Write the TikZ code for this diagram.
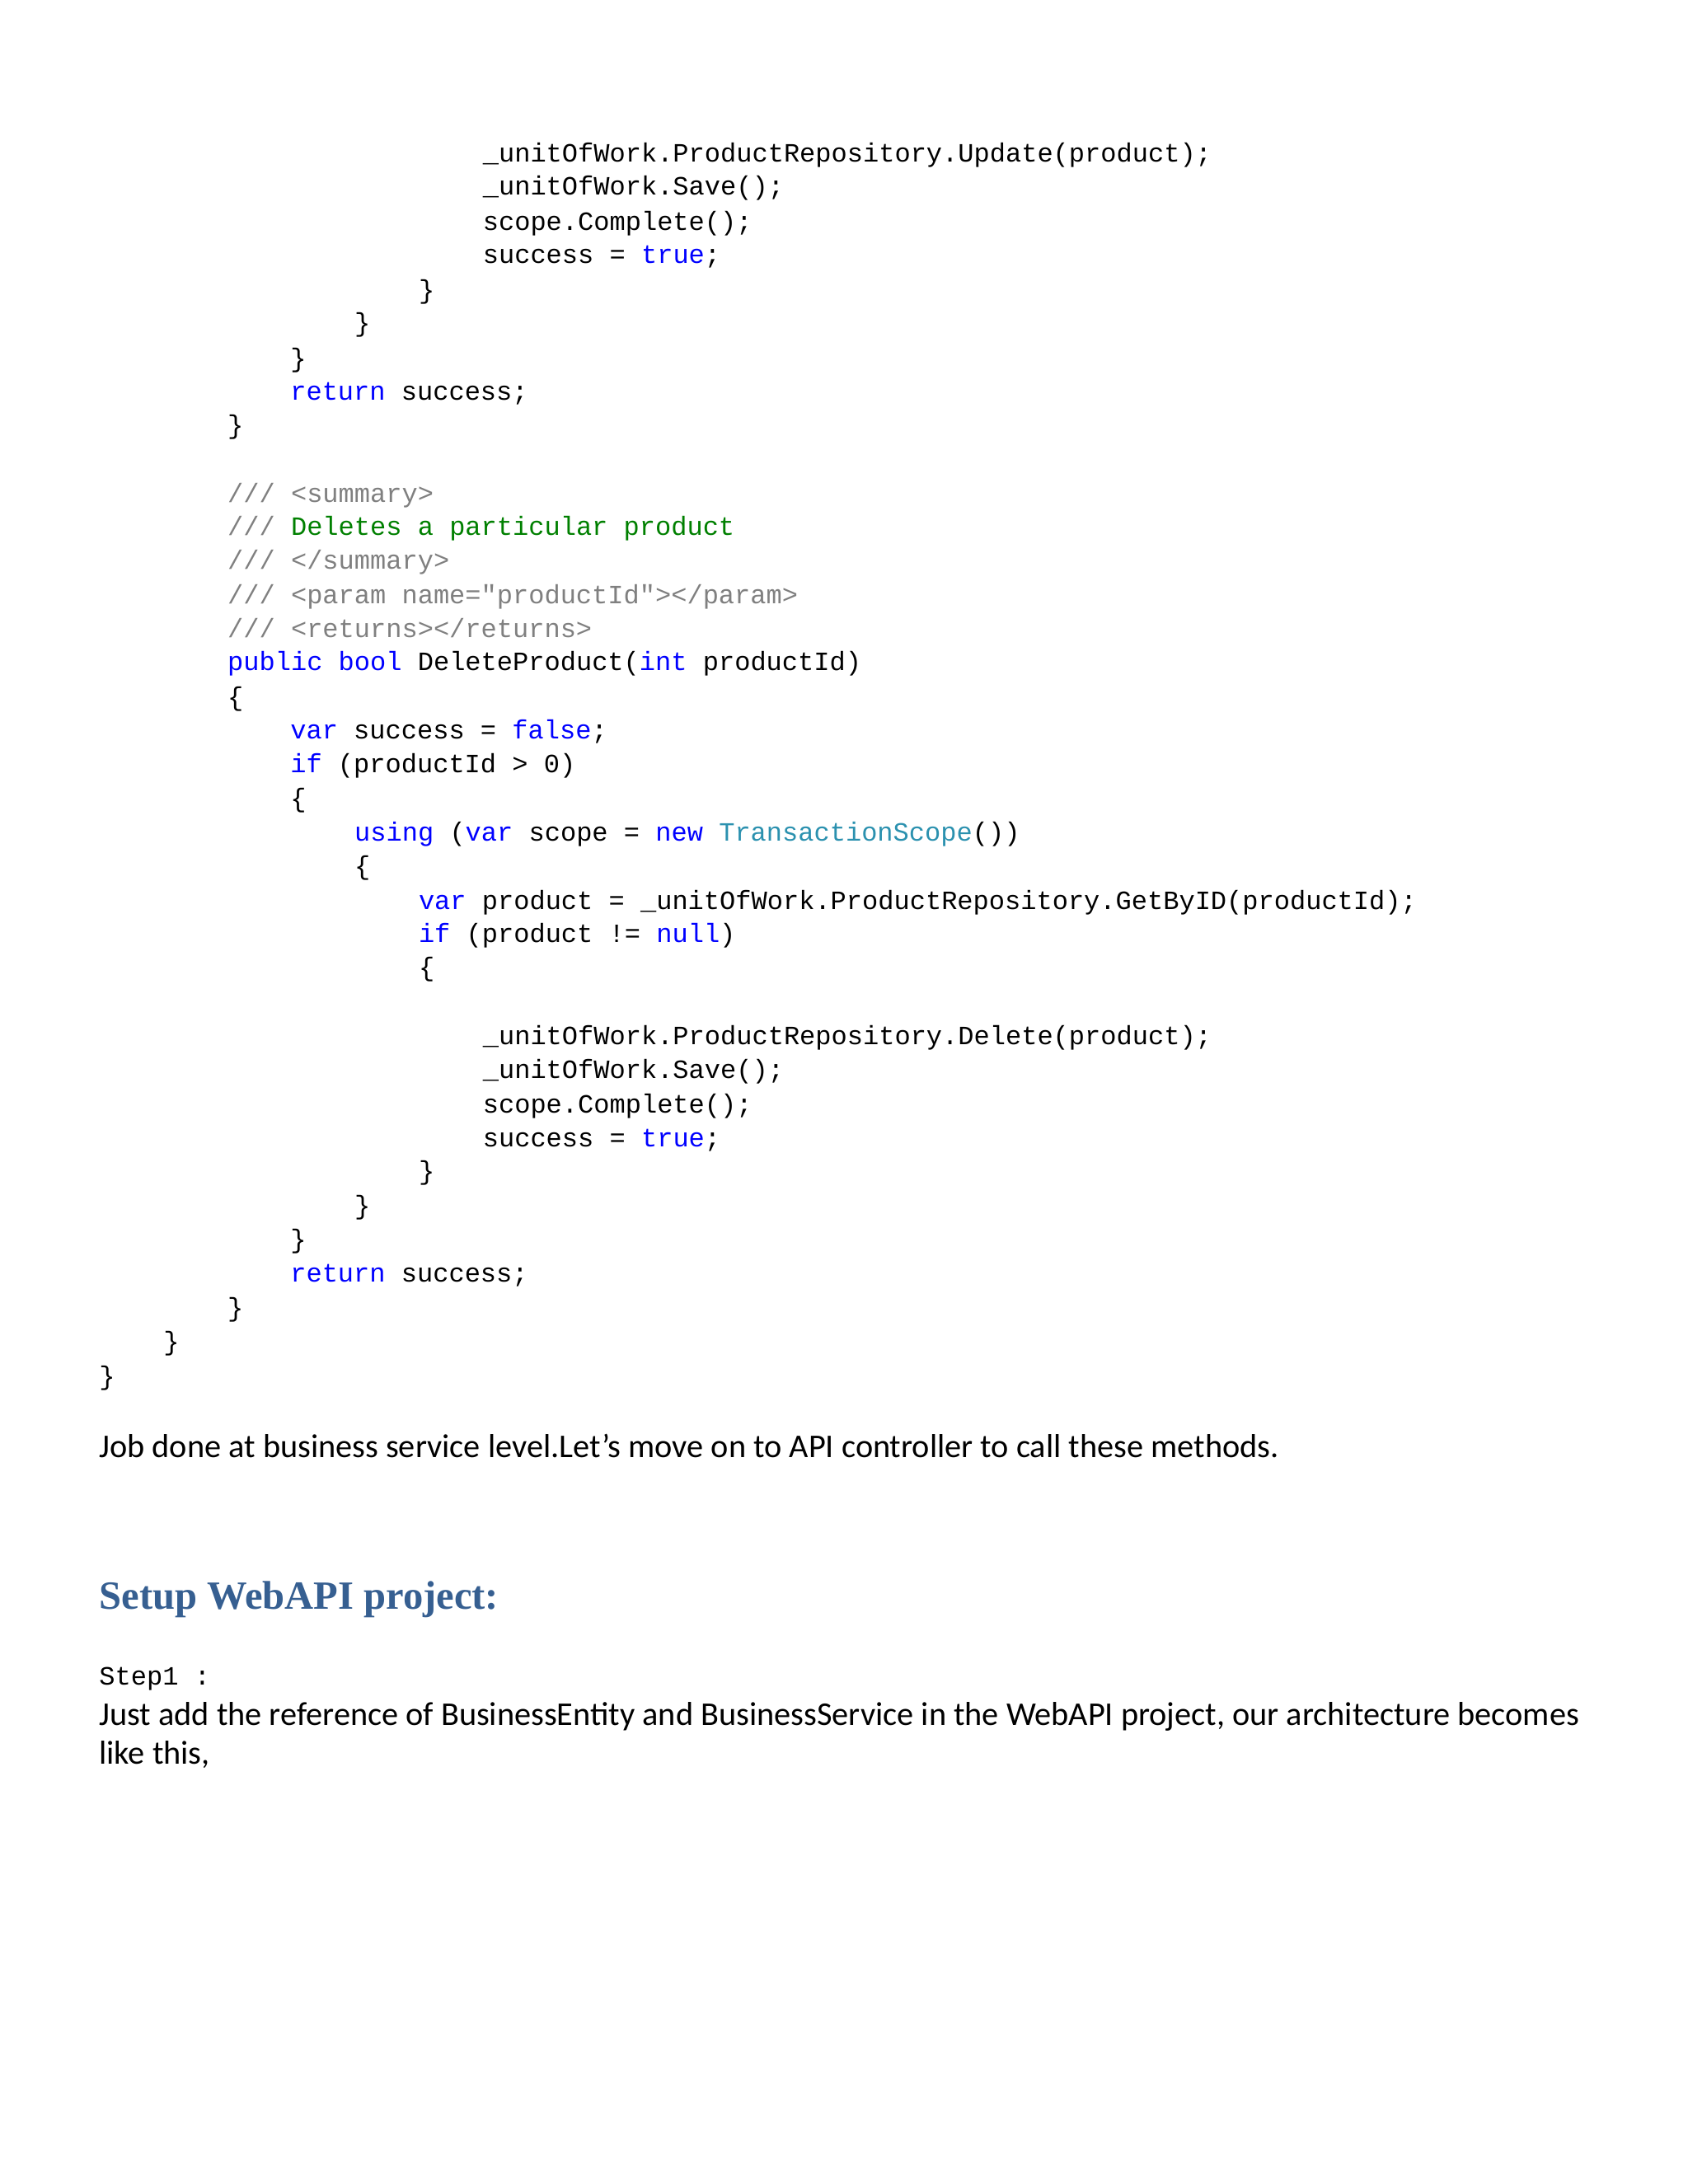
\documentclass[tikz,border=0pt]{standalone}
\usepackage{fontspec}
\setmainfont{Carlito}
\setmonofont{Liberation Mono}
\newfontfamily\headfont{Liberation Serif}
\definecolor{kw}{RGB}{0,0,255}
\definecolor{cm}{RGB}{128,128,128}
\definecolor{cg}{RGB}{0,128,0}
\definecolor{ty}{RGB}{43,145,175}
\definecolor{hd}{RGB}{54,95,145}
\newcommand{\K}[1]{\textcolor{kw}{#1}}
\newcommand{\C}[1]{\textcolor{cm}{#1}}
\newcommand{\G}[1]{\textcolor{cg}{#1}}
\newcommand{\T}[1]{\textcolor{ty}{#1}}
\begin{document}
\begin{tikzpicture}[x=1bp,y=-1bp,
  code/.style={anchor=base west,inner sep=0pt,font=\fontsize{19}{22}\ttfamily},
  body/.style={anchor=base west,inner sep=0pt,font=\fontsize{23.9}{28}\selectfont},
  head/.style={anchor=base west,inner sep=0pt,font=\fontsize{28.8}{32}\headfont\bfseries,text=hd}]
\useasboundingbox[fill=white] (0,0) rectangle (1210,1566);
\def\a{71}\def\b{117}\def\c{163}\def\d{208}\def\e{254}\def\f{300}\def\g{346}
\node[code] (l1) at (\g,116) {\_unitOfWork.ProductRepository.Update(product);};
\node[code] (l2) at (\g,140) {\_unitOfWork.Save();};
\node[code] (l3) at (\g,165) {scope.Complete();};
\node[code] (l4) at (\g,189) {success = \K{true};};
\node[code] (l5) at (\f,214) {\}};
\node[code] (l6) at (\e,238) {\}};
\node[code] (l7) at (\d,263) {\}};
\node[code] (l8) at (\d,287) {\K{return} success;};
\node[code] (l9) at (\c,311) {\}};
\node[code] (l10) at (\c,360) {\C{/// <summary>}};
\node[code] (l11) at (\c,384) {\C{///} \G{Deletes a particular product}};
\node[code] (l12) at (\c,408) {\C{/// </summary>}};
\node[code] (l13) at (\c,433) {\C{/// <param name="productId"></param>}};
\node[code] (l14) at (\c,457) {\C{/// <returns></returns>}};
\node[code] (l15) at (\c,481) {\K{public} \K{bool} DeleteProduct(\K{int} productId)};
\node[code] (l16) at (\c,506) {\{};
\node[code] (l17) at (\d,530) {\K{var} success = \K{false};};
\node[code] (l18) at (\d,554) {\K{if} (productId > 0)};
\node[code] (l19) at (\d,579) {\{};
\node[code] (l20) at (\e,603) {\K{using} (\K{var} scope = \K{new} \T{TransactionScope}())};
\node[code] (l21) at (\e,627) {\{};
\node[code] (l22) at (\f,652) {\K{var} product = \_unitOfWork.ProductRepository.GetByID(productId);};
\node[code] (l23) at (\f,676) {\K{if} (product != \K{null})};
\node[code] (l24) at (\f,700) {\{};
\node[code] (l25) at (\g,749) {\_unitOfWork.ProductRepository.Delete(product);};
\node[code] (l26) at (\g,773) {\_unitOfWork.Save();};
\node[code] (l27) at (\g,798) {scope.Complete();};
\node[code] (l28) at (\g,822) {success = \K{true};};
\node[code] (l29) at (\f,846) {\}};
\node[code] (l30) at (\e,871) {\}};
\node[code] (l31) at (\d,895) {\}};
\node[code] (l32) at (\d,919) {\K{return} success;};
\node[code] (l33) at (\c,944) {\}};
\node[code] (l34) at (\b,968) {\}};
\node[code] (l35) at (\a,993) {\}};
\node[body] (job) at (\a,1045) {Job done at business service level.Let’s move on to API controller to call these methods.};
\node[head] (hd) at (\a,1154) {Setup WebAPI project:};
\node[code] (st) at (\a,1208) {Step1 :};
\node[body] (p1) at (\a,1237) {Just add the reference of BusinessEntity and BusinessService in the WebAPI project, our architecture becomes};
\node[body] (p2) at (\a,1265) {like this,};
\end{tikzpicture}
\end{document}
